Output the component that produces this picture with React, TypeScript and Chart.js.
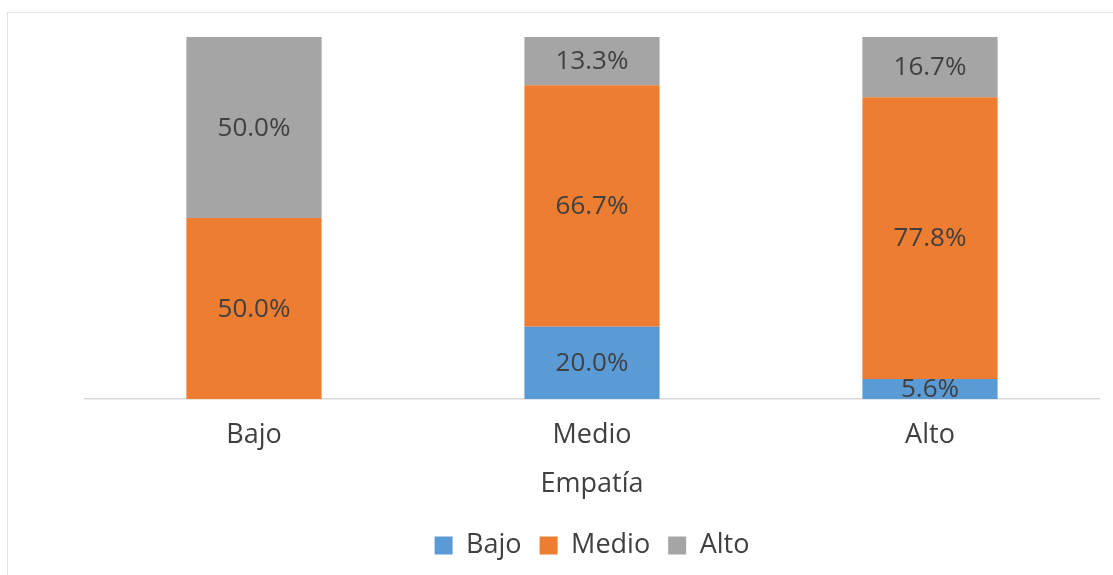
import React, { useEffect, useRef } from "react";
import { Chart, registerables } from "chart.js";

Chart.register(...registerables);

const categories = ["Bajo", "Medio", "Alto"];
const seriesNames = ["Bajo", "Medio", "Alto"];
const bajoValues = [0, 20.0, 5.6];
const medioValues = [50.0, 66.7, 77.8];
const altoValues = [50.0, 13.3, 16.7];
const seriesColors = ["#5B9BD5", "#ED7D31", "#A5A5A5"];
const axisTitle = "Empatía";

const FONT = "'Open Sans', 'Noto Sans', sans-serif";

const labelPlugin = {
  id: "segLabels",
  afterDatasetsDraw(chart: any) {
    const ctx = chart.ctx;
    ctx.save();
    ctx.font = `26px ${FONT}`;
    ctx.fillStyle = "#404040";
    ctx.textAlign = "center";
    ctx.textBaseline = "middle";
    chart.data.datasets.forEach((ds: any, di: number) => {
      const meta = chart.getDatasetMeta(di);
      meta.data.forEach((bar: any, i: number) => {
        const v = ds.data[i];
        if (!v) return;
        const props = bar.getProps(["x", "y", "base"], true);
        const cy = (props.y + props.base) / 2;
        ctx.fillText(v.toFixed(1) + "%", props.x, cy + 1);
      });
    });
    ctx.restore();
  },
};

export default function App() {
  const ref = useRef<HTMLCanvasElement>(null);
  useEffect(() => {
    document.body.style.margin = "0";
    const values = [bajoValues, medioValues, altoValues];
    const chart = new Chart(ref.current!, {
      type: "bar",
      data: {
        labels: categories,
        datasets: seriesNames.map((n, i) => ({
          label: n,
          data: values[i],
          backgroundColor: seriesColors[i],
          borderWidth: 0,
          barPercentage: 0.4,
          categoryPercentage: 1,
        })),
      },
      options: {
        animation: false,
        responsive: false,
        maintainAspectRatio: false,
        layout: { padding: { left: 85, right: 14, top: 37, bottom: 6 } },
        scales: {
          x: {
            stacked: true,
            grid: { display: false },
            border: { color: "#D9D9D9", width: 1.5 },
            ticks: { color: "#404040", font: { family: FONT, size: 27 }, padding: 12 },
            title: {
              display: true,
              text: axisTitle,
              color: "#404040",
              font: { family: FONT, size: 27 },
              padding: { top: 5, bottom: 13 },
            },
          },
          y: { stacked: true, display: false, min: 0, max: 100 },
        },
        plugins: {
          legend: {
            position: "bottom",
            labels: {
              color: "#404040",
              font: { family: FONT, size: 27 },
              boxWidth: 18,
              boxHeight: 18,
              padding: 18,
            },
          },
          tooltip: { enabled: false },
        },
      },
      plugins: [labelPlugin],
    });
    return () => chart.destroy();
  }, []);
  return (
    <div style={{ position: "relative", width: 1113, height: 575, background: "#fff", overflow: "hidden" }}>
      <div
        style={{
          position: "absolute",
          left: 7,
          top: 12,
          width: 1200,
          height: 700,
          border: "1.5px solid #E3E3E3",
          boxSizing: "border-box",
        }}
      />
      <canvas ref={ref} width={1113} height={575} style={{ position: "absolute", left: 0, top: 0, width: 1113, height: 575 }} />
    </div>
  );
}
